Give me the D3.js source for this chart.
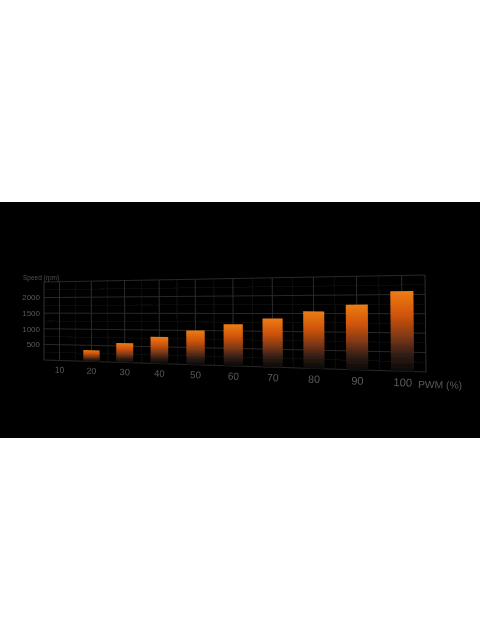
<!DOCTYPE html>
<html>
<head>
<meta charset="utf-8">
<script src="https://cdn.jsdelivr.net/npm/d3@7"></script>
<style>
html, body { margin: 0; padding: 0; background: #fff; }
svg { display: block; }
text { font-family: "Liberation Sans", Arial, sans-serif; }
</style>
</head>
<body>
<script>
// chart values
const pwm = [10, 20, 30, 40, 50, 60, 70, 80, 90, 100];
const speed = [null, 350, 590, 800, 1000, 1190, 1360, 1560, 1740, 2090];
const speedTicks = [500, 1000, 1500, 2000];
const minorPwm = [15, 25, 35, 45, 55, 65, 75, 85, 95];
const minorSpeed = [250, 750, 1250, 1750, 2250];

const width = 480, height = 640;
const svg = d3.select("body").append("svg").attr("width", width).attr("height", height);

svg.append("rect").attr("y", 202).attr("width", width).attr("height", 236).attr("fill", "#000");

// the plot is a flat panel seen in perspective
const corners = [[44, 282], [425, 275], [426, 372], [44, 360]]; // tl, tr, br, bl
const H = squareToQuad(corners);

const x = d3.scaleLinear().domain([5, 105]).range([0, 1]);
const y = d3.scaleLinear().domain([0, 2500]).range([1, 0]);

function squareToQuad(q) {
    const [[x0, y0], [x1, y1], [x2, y2], [x3, y3]] = q;
    const dx1 = x1 - x2, dx2 = x3 - x2, sx = x0 - x1 + x2 - x3;
    const dy1 = y1 - y2, dy2 = y3 - y2, sy = y0 - y1 + y2 - y3;
    const d = dx1 * dy2 - dx2 * dy1;
    const g = (sx * dy2 - dx2 * sy) / d;
    const h = (dx1 * sy - sx * dy1) / d;
    return { a: x1 - x0 + g * x1, b: x3 - x0 + h * x3, c: x0,
             d: y1 - y0 + g * y1, e: y3 - y0 + h * y3, f: y0, g, h };
}

// data value pair -> page position
function project(p, s) {
    const u = x(p), v = y(s);
    const w = H.g * u + H.h * v + 1;
    return [(H.a * u + H.b * v + H.c) / w, (H.d * u + H.e * v + H.f) / w];
}

const soft = svg.append("defs").append("filter").attr("id", "soft")
    .attr("x", "-5%").attr("y", "-5%").attr("width", "110%").attr("height", "110%");
soft.append("feGaussianBlur").attr("stdDeviation", 0.6);

const grad = svg.select("defs").append("linearGradient").attr("id", "barFill")
    .attr("x1", 0).attr("y1", 0).attr("x2", 0).attr("y2", 1);
grad.selectAll("stop")
    .data([[0, "#ee7d12"], [0.3, "#cf540f"], [0.55, "#853a12"], [0.8, "#2e1c15"], [1, "#090706"]])
    .join("stop")
    .attr("offset", d => d[0])
    .attr("stop-color", d => d[1]);

const chart = svg.append("g").attr("filter", "url(#soft)");
const line = d3.line();

function gridLines(cls, data, toPts, color, w) {
    chart.append("g").attr("class", cls).selectAll("path").data(data).join("path")
        .attr("d", d => line(toPts(d)))
        .attr("fill", "none")
        .attr("stroke", color)
        .attr("stroke-width", w);
}

const xEnds = x.domain(), yEnds = y.domain();
const vertical = p => [project(p, yEnds[0]), project(p, yEnds[1])];
const horizontal = s => [project(xEnds[0], s), project(xEnds[1], s)];

gridLines("minor-x", minorPwm, vertical, "#171717", 0.7);
gridLines("minor-y", minorSpeed, horizontal, "#131313", 0.7);
gridLines("major-x", pwm, vertical, "#303030", 0.9);
gridLines("major-y", speedTicks, horizontal, "#2c2c2c", 0.9);
gridLines("frame-x", xEnds, vertical, "#333", 0.9);
gridLines("frame-y", yEnds, horizontal, "#2e2e2e", 0.9);

// bars
const barHalf = 2.5;
chart.append("g").selectAll("path")
    .data(pwm.map((p, i) => ({ p, s: speed[i] })).filter(d => d.s !== null))
    .join("path")
    .attr("d", d => line([
        project(d.p - barHalf, d.s), project(d.p + barHalf, d.s),
        project(d.p + barHalf, 0), project(d.p - barHalf, 0)
    ]) + "Z")
    .attr("fill", "url(#barFill)");

// labels grow towards the near side of the panel
const labelColor = "#5a5a5a";
const tilt = Math.atan2(corners[2][1] - corners[3][1], corners[2][0] - corners[3][0]) * 180 / Math.PI;
const fontSize = p => 8.4 + 3 * x(p);

chart.append("g").selectAll("text").data(pwm).join("text")
    .attr("transform", d => {
        const [px, py] = project(d, -290);
        return `translate(${px},${py}) rotate(${tilt})`;
    })
    .attr("text-anchor", "middle")
    .attr("dy", "0.35em")
    .attr("font-size", fontSize)
    .attr("fill", labelColor)
    .text(d => d);

chart.append("g").selectAll("text").data(speedTicks).join("text")
    .attr("x", d => project(xEnds[0], d)[0] - 4)
    .attr("y", d => project(xEnds[0], d)[1])
    .attr("text-anchor", "end")
    .attr("dy", "0.35em")
    .attr("font-size", 8)
    .attr("fill", labelColor)
    .text(d => d);

chart.append("text")
    .attr("x", 23).attr("y", 279.5)
    .attr("font-size", 6.5)
    .attr("fill", "#505050")
    .text("Speed (rpm)");

chart.append("text")
    .attr("transform", `translate(418,388) rotate(${tilt * 0.5})`)
    .attr("font-size", 10.3)
    .attr("fill", labelColor)
    .text("PWM (%)");
</script>
</body>
</html>
